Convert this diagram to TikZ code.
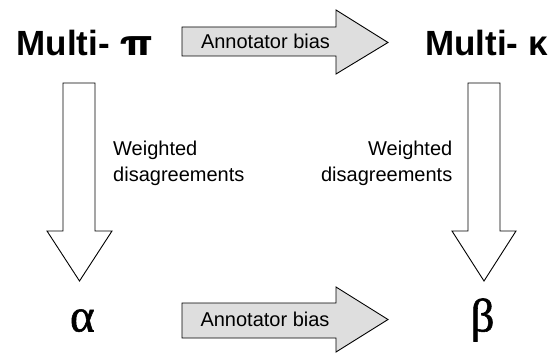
\documentclass[tikz,border=0pt]{standalone}
\usepackage{fontspec}
\setmainfont{Liberation Sans}
\newfontfamily\grserif[FakeBold=1.2]{Liberation Serif}
\newfontfamily\grsans{TeX Gyre Heros}
\begin{document}
\begin{tikzpicture}[x=1pt,y=-1pt,
  blockarrow/.style={draw=black,line width=0.9pt,line join=miter},
  grayarrow/.style={blockarrow,fill=black!13},
  whitearrow/.style={blockarrow,fill=white},
  title/.style={inner sep=0pt,font=\fontsize{35}{40}\selectfont\bfseries},
  label/.style={inner sep=0pt,font=\fontsize{20}{26}\selectfont},
  greek/.style={inner sep=0pt,font=\fontsize{47}{50}\selectfont\grserif}]
\useasboundingbox[fill=white] (0,0) rectangle (557,353);
% titles
\node[title,anchor=base west] (multipi) at (16.5,55.7) {Multi- \scalebox{1.3}[1]{\grsans\bfseries π}};
\node[title,anchor=base west] (multikappa) at (425,55.7) {Multi- κ};
\node[greek,anchor=base] (alpha) at (82.3,331.5) {α};
\node[greek,anchor=base] (beta) at (482.5,331.5) {β};
% horizontal block arrows
\draw[grayarrow] (182,27) -- (336,27) -- (336,10) -- (388,42.5) -- (336,74) -- (336,56) -- (182,56) -- cycle;
\draw[grayarrow] (182,303) -- (336,303) -- (336,287) -- (388,319.5) -- (336,352) -- (336,338) -- (182,338) -- cycle;
\node[label,anchor=base] (bias1) at (265.5,48.5) {Annotator bias};
\node[label,anchor=base] (bias2) at (265,326.7) {Annotator bias};
% vertical block arrows
\draw[whitearrow] (63,83) -- (95,83) -- (95,231) -- (112,231) -- (79.5,281) -- (47,231) -- (63,231) -- cycle;
\draw[whitearrow] (468,83) -- (500,83) -- (500,231) -- (516,231) -- (484,281) -- (452,231) -- (468,231) -- cycle;
\node[label,anchor=north west,align=left] (wd1) at (113,141) {Weighted\\disagreements};
\node[label,anchor=north east,align=right] (wd2) at (452.5,141) {Weighted\\disagreements};
\end{tikzpicture}
\end{document}
